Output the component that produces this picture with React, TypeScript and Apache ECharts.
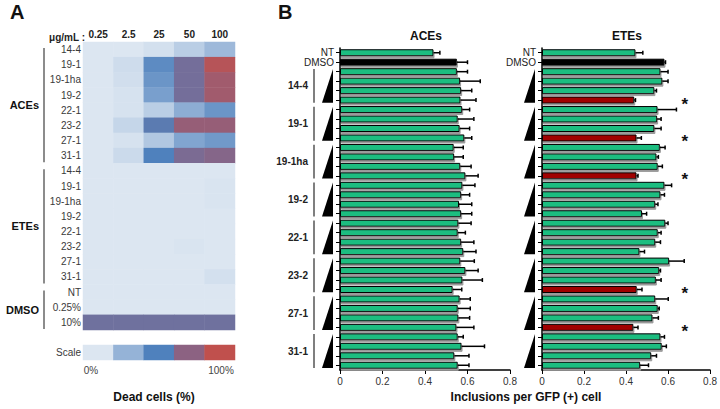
import React, { useEffect, useRef } from "react";
import * as echarts from "echarts";

const FONT = "'Liberation Sans', Arial, Helvetica, sans-serif";

// ---------- Panel A data ----------
const doseLabels = ["0.25", "2.5", "25", "50", "100"];
const heatRowKeys = [
  "ACEs|14-4", "ACEs|19-1", "ACEs|19-1ha", "ACEs|19-2", "ACEs|22-1", "ACEs|23-2", "ACEs|27-1", "ACEs|31-1",
  "ETEs|14-4", "ETEs|19-1", "ETEs|19-1ha", "ETEs|19-2", "ETEs|22-1", "ETEs|23-2", "ETEs|27-1", "ETEs|31-1",
  "DMSO|NT", "DMSO|0.25%", "DMSO|10%",
];
const deadCells: number[][] = [
  [0, 0, 3, 12, 22],
  [0, 5, 45, 65, 95],
  [0, 4, 40, 65, 85],
  [0, 2, 35, 65, 85],
  [0, 2, 12, 28, 40],
  [0, 8, 55, 80, 80],
  [0, 2, 15, 32, 38],
  [0, 6, 50, 68, 72],
  [0, 0, 0, 0, 0],
  [0, 0, 0, 0, 1],
  [0, 0, 0, 0, 1],
  [0, 0, 0, 0, 0],
  [0, 0, 0, 0, 0],
  [0, 0, 0, 1, 0],
  [0, 0, 0, 0, 0],
  [0, 0, 0, 0, 3],
  [0, 0, 0, 0, 0],
  [0, 0, 0, 0, 0],
  [63, 63, 63, 63, 63],
];
const heatGroups: [string, number, number][] = [
  ["ACEs", 0, 7],
  ["ETEs", 8, 15],
  ["DMSO", 16, 18],
];
const scaleValues = [0, 25, 50, 75, 100];
const scaleColors = ["#dce6f1", "#95b3d7", "#4f81bd", "#8c6282", "#c0504d"];

// ---------- Panel B data ----------
const compoundGroups = ["14-4", "19-1", "19-1ha", "19-2", "22-1", "23-2", "27-1", "31-1"];
const barRows = ["NT", "DMSO", ...compoundGroups.flatMap((g) => [1, 2, 3, 4].map((d) => `${g} #${d}`))];

const acesMean = [
  0.44, 0.55,
  0.55, 0.565, 0.57, 0.567,
  0.575, 0.554, 0.563, 0.585,
  0.535, 0.537, 0.566, 0.59,
  0.576, 0.57, 0.56, 0.57,
  0.557, 0.554, 0.57, 0.58,
  0.566, 0.59, 0.576, 0.53,
  0.563, 0.554, 0.557, 0.548,
  0.554, 0.572, 0.538, 0.554,
];
const acesErr = [
  0.03, 0.05,
  0.05, 0.095, 0.05, 0.073,
  0.035, 0.076, 0.047, 0.035,
  0.045, 0.043, 0.051, 0.06,
  0.059, 0.04, 0.06, 0.05,
  0.06, 0.036, 0.06, 0.06,
  0.066, 0.06, 0.094, 0.043,
  0.05, 0.059, 0.053, 0.082,
  0.026, 0.108, 0.069, 0.053,
];
const etesMean = [
  0.445, 0.583,
  0.564, 0.573, 0.535, 0.439,
  0.55, 0.548, 0.535, 0.45,
  0.561, 0.545, 0.551, 0.45,
  0.583, 0.564, 0.539, 0.476,
  0.587, 0.551, 0.539, 0.464,
  0.605, 0.558, 0.542, 0.451,
  0.539, 0.551, 0.526, 0.435,
  0.564, 0.57, 0.52, 0.467,
];
const etesErr = [
  0.035, 0.005,
  0.036, 0.027, 0.01, 0.006,
  0.09, 0.019, 0.032, 0.023,
  0.025, 0.009, 0.022, 0.007,
  0.034, 0.019, 0.013, 0.022,
  0.013, 0.016, 0.025, 0.024,
  0.072, 0.006, 0.025, 0.025,
  0.062, 0.007, 0.028, 0.022,
  0.019, 0.022, 0.025, 0.04,
];
const etesSignificant = [5, 9, 13, 25, 29];
const xTicksMax = 0.8;

const GREEN = "#1fbd80";
const RED = "#a00000";

export default function App() {
  const ref = useRef<HTMLDivElement>(null);

  useEffect(() => {
    if (!ref.current) return;
    const chart = echarts.init(ref.current, undefined, { renderer: "svg" });

    const barColor = (i: number, sig: number[]) =>
      i === 1 ? "#000" : sig.includes(i) ? RED : GREEN;

    const makeBars = (vals: number[], sig: number[], xi: number) => ({
      type: "bar",
      xAxisIndex: xi,
      yAxisIndex: xi,
      barWidth: 7,
      data: vals.map((v, i) => ({
        value: v,
        itemStyle: {
          color: barColor(i, sig),
          borderColor: "#000",
          borderWidth: 1,
          shadowColor: "#9a9a9a",
          shadowOffsetX: 1,
          shadowOffsetY: 2,
          shadowBlur: 0,
        },
      })),
      z: 2,
    });

    const makeErr = (vals: number[], errs: number[], xi: number) => ({
      type: "custom",
      xAxisIndex: xi,
      yAxisIndex: xi,
      clip: false,
      z: 3,
      encode: { x: 0, y: 1 },
      data: vals.map((v, i) => [v, i, errs[i]]),
      renderItem: (_p: any, api: any) => {
        const v = api.value(0);
        const row = api.value(1);
        const e = api.value(2);
        const a = api.coord([v, row]);
        const b = api.coord([v + e, row]);
        return {
          type: "group",
          children: [
            { type: "line", shape: { x1: a[0], y1: a[1], x2: b[0], y2: b[1] }, style: { stroke: "#000", lineWidth: 1.5 } },
            { type: "line", shape: { x1: b[0], y1: b[1] - 2, x2: b[0], y2: b[1] + 2 }, style: { stroke: "#000", lineWidth: 1.5 } },
          ],
        };
      },
    });

    const makeWedges = (xi: number, withLabels: boolean) => ({
      type: "custom",
      xAxisIndex: xi,
      yAxisIndex: xi,
      clip: false,
      z: 3,
      encode: { x: 0, y: 1 },
      data: compoundGroups.map((_, i) => [0, 2 + 4 * i, 5 + 4 * i]),
      renderItem: (params: any, api: any) => {
        const s = api.value(1);
        const e = api.value(2);
        const p0 = api.coord([0, s]);
        const p1 = api.coord([0, e]);
        const band = api.size([0, 1])[1];
        const top = p0[1] - band / 2 + 2;
        const bottom = p1[1] + band / 2 - 2;
        const x0 = p0[0];
        const children: any[] = [
          {
            type: "polygon",
            shape: { points: [[x0 - 18, bottom], [x0 - 7, bottom], [x0 - 7, top]] },
            style: { fill: "#000" },
          },
        ];
        if (withLabels) {
          children.push({
            type: "line",
            shape: { x1: x0 - 26, y1: top, x2: x0 - 26, y2: bottom },
            style: { stroke: "#555", lineWidth: 1.5 },
          });
          children.push({
            type: "text",
            style: {
              text: compoundGroups[params.dataIndex],
              x: x0 - 32,
              y: (top + bottom) / 2,
              align: "right",
              verticalAlign: "middle",
              font: `bold 10px ${FONT}`,
              fill: "#222",
            },
          });
        }
        return { type: "group", children };
      },
    });

    const barXAxis = (gi: number) => ({
      type: "value",
      gridIndex: gi,
      min: 0,
      max: xTicksMax,
      interval: 0.2,
      splitLine: { show: false },
      axisLine: { show: true, lineStyle: { color: "#000", width: 1.5 } },
      axisTick: { show: true, length: 4, lineStyle: { color: "#000", width: 1 } },
      axisLabel: { fontSize: 10, color: "#333", fontFamily: FONT, margin: 6 },
    });
    const barYAxis = (gi: number) => ({
      type: "category",
      gridIndex: gi,
      inverse: true,
      data: barRows,
      axisLine: { show: true, lineStyle: { color: "#000", width: 1.5 } },
      axisTick: { show: true, alignWithLabel: true, interval: 0, length: 4, lineStyle: { color: "#000" } },
      axisLabel: {
        interval: 0,
        fontSize: 10,
        color: "#222",
        fontFamily: FONT,
        margin: 6,
        formatter: (v: string) => (v === "NT" || v === "DMSO" ? v : ""),
      },
    });

    const heatData: number[][] = [];
    deadCells.forEach((row, r) => row.forEach((v, c) => heatData.push([c, r, v])));

    const option: any = {
      animation: false,
      backgroundColor: "#fff",
      textStyle: { fontFamily: FONT },
      grid: [
        { left: 83, top: 42, width: 152, height: 288 },
        { left: 340, top: 48, width: 170, height: 322 },
        { left: 542, top: 48, width: 170, height: 322 },
        { left: 83, top: 345, width: 152, height: 15 },
      ],
      xAxis: [
        {
          type: "category",
          gridIndex: 0,
          data: doseLabels,
          position: "top",
          axisLine: { show: false },
          axisTick: { show: false },
          axisLabel: { fontSize: 10, fontWeight: "bold", color: "#222", margin: 3, fontFamily: FONT },
        },
        barXAxis(1),
        barXAxis(2),
        { type: "category", gridIndex: 3, data: doseLabels, show: false },
      ],
      yAxis: [
        {
          type: "category",
          gridIndex: 0,
          inverse: true,
          data: heatRowKeys,
          axisLine: { show: false },
          axisTick: { show: false },
          axisLabel: {
            interval: 0,
            fontSize: 10,
            color: "#3a3a3a",
            margin: 2,
            fontFamily: FONT,
            formatter: (v: string) => v.split("|")[1],
          },
        },
        barYAxis(1),
        barYAxis(2),
        {
          type: "category",
          gridIndex: 3,
          data: ["Scale"],
          axisLine: { show: false },
          axisTick: { show: false },
          axisLabel: { fontSize: 10, color: "#3a3a3a", margin: 2, fontFamily: FONT },
        },
      ],
      visualMap: {
        type: "continuous",
        show: false,
        min: 0,
        max: 100,
        seriesIndex: [0, 1],
        inRange: { color: scaleColors },
      },
      series: [
        {
          type: "heatmap",
          xAxisIndex: 0,
          yAxisIndex: 0,
          data: heatData,
          itemStyle: { borderWidth: 0 },
        },
        {
          type: "heatmap",
          xAxisIndex: 3,
          yAxisIndex: 3,
          data: scaleValues.map((v, i) => [i, 0, v]),
        },
        {
          type: "custom",
          xAxisIndex: 0,
          yAxisIndex: 0,
          clip: false,
          encode: { x: 0, y: 1 },
          data: heatGroups.map((g) => [0, g[1], g[2]]),
          renderItem: (params: any, api: any) => {
            const s = api.value(1);
            const e = api.value(2);
            const p0 = api.coord([0, s]);
            const p1 = api.coord([0, e]);
            const sz = api.size([1, 1]);
            const left = p0[0] - sz[0] / 2;
            const top = p0[1] - sz[1] / 2 + 6;
            const bottom = p1[1] + sz[1] / 2 - 1;
            return {
              type: "group",
              children: [
                {
                  type: "line",
                  shape: { x1: left - 39, y1: top, x2: left - 39, y2: bottom },
                  style: { stroke: "#666", lineWidth: 1.5 },
                },
                {
                  type: "text",
                  style: {
                    text: heatGroups[params.dataIndex][0],
                    x: left - 44,
                    y: (top + bottom) / 2,
                    align: "right",
                    verticalAlign: "middle",
                    font: `bold 11px ${FONT}`,
                    fill: "#111",
                  },
                },
              ],
            };
          },
        },
        makeBars(acesMean, [], 1),
        makeErr(acesMean, acesErr, 1),
        makeWedges(1, true),
        makeBars(etesMean, etesSignificant, 2),
        makeErr(etesMean, etesErr, 2),
        makeWedges(2, false),
        {
          type: "custom",
          xAxisIndex: 2,
          yAxisIndex: 2,
          clip: false,
          encode: { x: 0, y: 1 },
          data: etesSignificant.map((r) => [0.68, r]),
          renderItem: (_p: any, api: any) => {
            const c = api.coord([api.value(0), api.value(1)]);
            return {
              type: "text",
              style: {
                text: "*",
                x: c[0],
                y: c[1] + 4,
                align: "center",
                verticalAlign: "middle",
                font: `bold 17px ${FONT}`,
                fill: "#111",
              },
            };
          },
        },
      ],
      graphic: [
        { type: "text", left: 10, top: 2, style: { text: "A", font: `bold 20px ${FONT}`, fill: "#111" } },
        { type: "text", left: 278, top: 2, style: { text: "B", font: `bold 20px ${FONT}`, fill: "#111" } },
        {
          type: "text",
          x: 85,
          y: 37,
          style: { text: "μg/mL :", align: "right", verticalAlign: "middle", font: `bold 10px ${FONT}`, fill: "#222" },
        },
        { type: "text", x: 91, y: 370, style: { text: "0%", align: "center", verticalAlign: "middle", font: `10px ${FONT}`, fill: "#444" } },
        { type: "text", x: 221, y: 370, style: { text: "100%", align: "center", verticalAlign: "middle", font: `10px ${FONT}`, fill: "#444" } },
        { type: "text", x: 154, y: 397, style: { text: "Dead cells (%)", align: "center", verticalAlign: "middle", font: `bold 12px ${FONT}`, fill: "#111" } },
        { type: "text", x: 426, y: 36, style: { text: "ACEs", align: "center", verticalAlign: "middle", font: `bold 12px ${FONT}`, fill: "#111" } },
        { type: "text", x: 627, y: 36, style: { text: "ETEs", align: "center", verticalAlign: "middle", font: `bold 12px ${FONT}`, fill: "#111" } },
        {
          type: "text",
          x: 526,
          y: 397,
          style: { text: "Inclusions per GFP (+) cell", align: "center", verticalAlign: "middle", font: `bold 12px ${FONT}`, fill: "#111" },
        },
      ],
    };

    chart.setOption(option);
    return () => chart.dispose();
  }, []);

  return (
    <div
      ref={ref}
      style={{ position: "fixed", left: 0, top: 0, width: 720, height: 409, background: "#fff" }}
    />
  );
}
